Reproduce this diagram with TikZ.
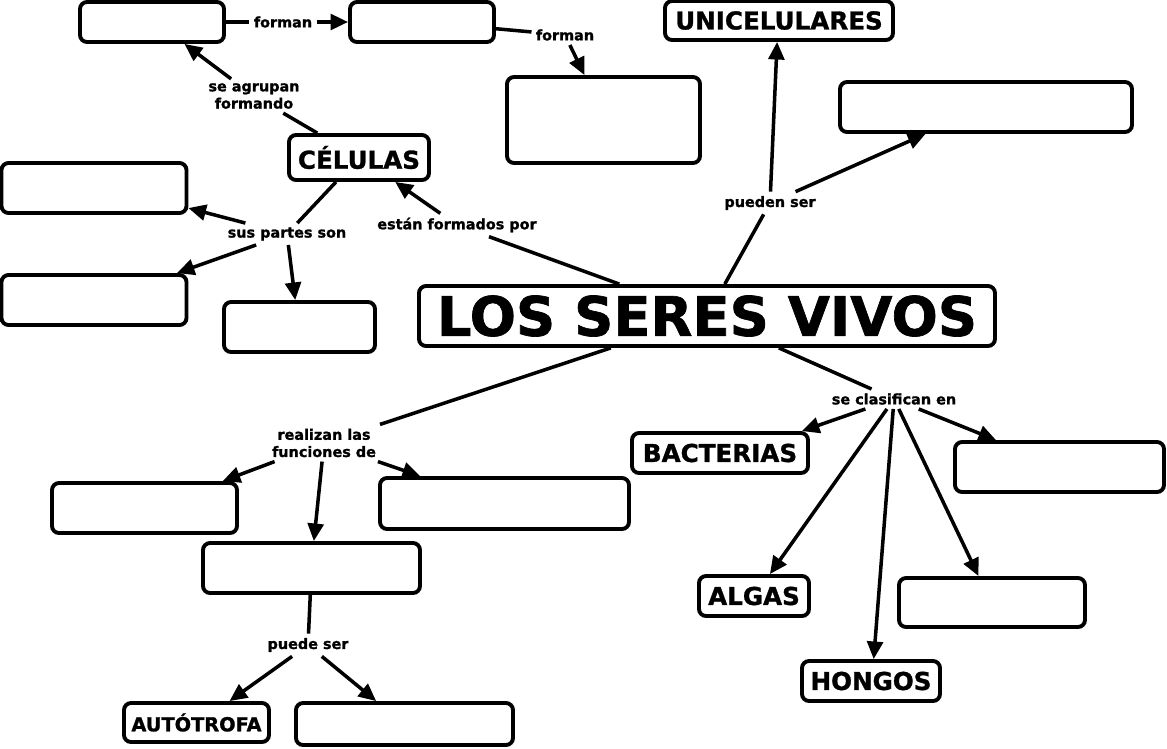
\documentclass[tikz,border=0pt]{standalone}
\usepackage{fontspec}
\setmainfont{DejaVu Sans}[BoldFeatures={FakeBold=1.2}]
\usetikzlibrary{arrows.meta}
\begin{document}
\begin{tikzpicture}[x=0.02cm, y=-0.02cm, >={Triangle[length=10pt,width=9pt]},
  line width=2pt,
  box/.style 2 args={draw, line width=2.2pt, rounded corners=4pt, inner sep=0pt,
    minimum width=#1*0.02cm, minimum height=#2*0.02cm,
    font=\bfseries\fontsize{14}{16}\selectfont},
  lbl/.style={inner sep=1.5pt, align=center,
    font=\bfseries\fontsize{8.2}{9.8}\selectfont}]
\useasboundingbox (0,0) rectangle (1167,748);
% concepts
\node[box={144}{40}] (a) at (152,22) {};
\node[box={144}{40}] (b) at (422,22) {};
\node[box={193}{86}] (c) at (603.5,120) {};
\node[box={228}{39}] (unic) at (779,20.5) {UNICELULARES};
\node[box={292}{50}] (d) at (986,107) {};
\node[box={140}{45}] (cel) at (359,157.5) {CÉLULAS};
\node[box={185}{50}] (e) at (94,188) {};
\node[box={185}{50}] (f) at (94,300) {};
\node[box={151}{50}] (g) at (299.5,327) {};
\node[box={576}{60}, font=\bfseries\fontsize{31}{36}\selectfont] (lsv) at (707,316) {LOS SERES VIVOS};
\node[box={176}{40}] (bact) at (720,453) {BACTERIAS};
\node[box={209}{50}] (h) at (1059.5,467) {};
\node[box={185}{50}] (i) at (144.5,508) {};
\node[box={249}{51}] (j) at (504.5,503.5) {};
\node[box={217}{50}] (k) at (311.5,568) {};
\node[box={110}{40}] (algas) at (754,596) {ALGAS};
\node[box={186}{49}] (l) at (992,602.5) {};
\node[box={138}{40}] (hongos) at (871,681) {HONGOS};
\node[box={145}{39}, font=\bfseries\fontsize{11}{13}\selectfont] (aut) at (196.5,722.5) {AUTÓTROFA};
\node[box={217}{42}] (m) at (404.5,724) {};
% linking words
\node[lbl] (lforman1) at (283,22) {forman};
\node[lbl] (lforman2) at (565,35) {forman};
\node[lbl] (lagrupan) at (254,96) {se agrupan\\formando};
\node[lbl] (lformados) at (457,225) {están formados por};
\node[lbl] (lpartes) at (287,234) {sus partes son};
\node[lbl] (lpueden) at (770,203) {pueden ser};
\node[lbl] (lclasif) at (894,399) {se clasifican en};
\node[lbl] (lrealizan) at (324,443) {realizan las\\funciones de};
\node[lbl] (lpuede) at (308,645) {puede ser};
% connectors
\draw (a) -- (lforman1);
\draw[->] (lforman1) -- (b);
\draw (b) -- (lforman2);
\draw[->] (lforman2) -- (c.113);
\draw (cel) -- (lagrupan);
\draw[->] (lagrupan) -- (a.-34);
\draw (lsv) -- (lformados);
\draw[->] (lformados) -- (cel.-34);
\draw (cel) -- (lpartes);
\draw[->] (lpartes) -- (e.-12);
\draw[->] (lpartes) -- (f.18);
\draw[->] (lpartes) -- (g.99);
\draw (lsv) -- (lpueden);
\draw[->] (lpueden) -- (unic.265);
\draw[->] (lpueden) -- (d.204);
\draw (lsv) -- (lclasif);
\draw[->] (lclasif) -- (bact.15);
\draw[->] (lclasif) -- (algas.54);
\draw[->] (lclasif) -- (hongos.83);
\draw[->] (lclasif) -- (l.117);
\draw[->] (lclasif) -- (h.157);
\draw (lsv) -- (lrealizan);
\draw[->] (lrealizan) -- (i.19);
\draw[->] (lrealizan) -- (k.85);
\draw[->] (lrealizan) -- (j.162);
\draw (k) -- (lpuede);
\draw[->] (lpuede) -- (aut.33);
\draw[->] (lpuede) -- (m.141);
\end{tikzpicture}
\end{document}
